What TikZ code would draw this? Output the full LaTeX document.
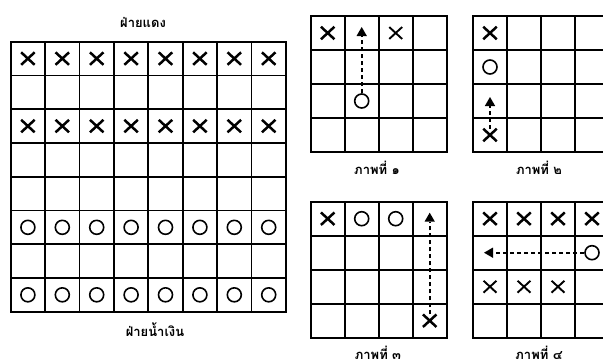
\documentclass[tikz,border=0pt]{standalone}
\usepackage{fontspec}
\newfontfamily\thaifont[Script=Thai]{Loma}
\usetikzlibrary{shapes.misc,shapes.geometric}
\newcommand\smallgrid[2]{%
  \foreach \k in {0,...,4} {
    \draw[gridline] ({#1+34*\k},#2) -- ({#1+34*\k},{#2+136});
    \draw[gridline] (#1,{#2+34*\k}) -- ({#1+136},{#2+34*\k});
  }
  \draw[frameline] (#1,#2) rectangle ({#1+136},{#2+136});
}
\begin{document}
\begin{tikzpicture}[x=1pt,y=-1pt,
  gridline/.style={line width=1.8pt},
  frameline/.style={line width=2.2pt},
  xmark/.style={cross out,draw,line width=2.5pt,minimum width=11pt,minimum height=10pt,inner sep=0pt},
  thinx/.style={cross out,draw,line width=1.9pt,minimum width=11pt,minimum height=10pt,inner sep=0pt},
  omark/.style={circle,draw,line width=1.6pt,minimum size=14pt,inner sep=0pt},
  tri/.style={regular polygon,regular polygon sides=3,fill,minimum size=12pt,inner sep=0pt},
  movepath/.style={line width=2pt,dash pattern=on 4pt off 3pt},
  lbl/.style={font=\thaifont\bfseries\fontsize{13}{15}\selectfont,inner sep=0pt}]
\useasboundingbox (0,0) rectangle (603,364);
\fill[white] (0,0) rectangle (603,364);

% big board
\foreach \i in {0,...,8} {
  \draw[gridline] ({10.7+34.4*\i},41.7) -- ({10.7+34.4*\i},311.7);
  \draw[gridline] (10.7,{41.7+33.75*\i}) -- (285.9,{41.7+33.75*\i});
}
\draw[frameline] (10.7,41.7) rectangle (285.9,311.7);
\foreach \i in {1,...,8} {
  \node[xmark] (bxa\i) at ({10.7+34.4*(\i-0.5)},{41.7+33.75*0.5}) {};
  \node[xmark] (bxb\i) at ({10.7+34.4*(\i-0.5)},{41.7+33.75*2.5}) {};
  \node[omark] (boa\i) at ({10.7+34.4*(\i-0.5)},{41.7+33.75*5.5}) {};
  \node[omark] (bob\i) at ({10.7+34.4*(\i-0.5)},{41.7+33.75*7.5}) {};
}
\node[lbl] (red) at (143,22) {ฝ่ายแดง};
\node[lbl] (blue) at (155,330) {ฝ่ายน้ำเงิน};

% board 1
\smallgrid{310.7}{16}
\node[xmark] (p1x1) at (327.7,33) {};
\node[tri] (p1t) at (361.7,33) {};
\node[thinx] (p1x2) at (395.7,33) {};
\node[omark] (p1o) at (361.7,101) {};
\draw[movepath] (p1o.north) -- (p1t.south);
\node[lbl] (cap1) at (377,168) {ภาพที่ ๑};

% board 2
\smallgrid{473}{16}
\node[xmark] (p2x1) at (490,33) {};
\node[omark] (p2o) at (490,67) {};
\node[tri] (p2t) at (490,103) {};
\node[xmark] (p2x2) at (490,135) {};
\draw[movepath] (p2x2.north) -- (p2t.south);
\node[lbl] (cap2) at (539,168) {ภาพที่ ๒};

% board 3
\smallgrid{310.7}{201.7}
\node[xmark] (p3x1) at (327.7,218.7) {};
\node[omark] (p3o1) at (361.7,218.7) {};
\node[omark] (p3o2) at (395.7,218.7) {};
\node[tri] (p3t) at (429.7,218.7) {};
\node[xmark] (p3x2) at (429.7,320.7) {};
\draw[movepath] (p3x2.north) -- (p3t.south);
\node[lbl] (cap3) at (378,353) {ภาพที่ ๓};

% board 4
\smallgrid{473}{201.7}
\foreach \i in {1,...,4} {
  \node[xmark] (p4xa\i) at ({473+34*(\i-0.5)},218.7) {};
}
\foreach \i in {1,...,3} {
  \node[thinx] (p4xb\i) at ({473+34*(\i-0.5)},286.7) {};
}
\node[tri,regular polygon rotate=90] (p4t) at (490,252.7) {};
\node[omark] (p4o) at (592,252.7) {};
\draw[movepath] (p4o.west) -- (p4t.east);
\node[lbl] (cap4) at (539,353) {ภาพที่ ๔};
\end{tikzpicture}
\end{document}
